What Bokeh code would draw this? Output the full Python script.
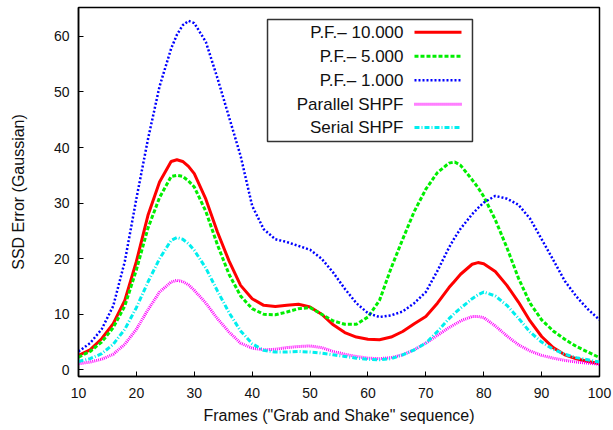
from bokeh.plotting import figure
from bokeh.models import Range1d, FixedTicker, Label, Arrow, BoxAnnotation
from bokeh.embed import file_html
from bokeh.resources import INLINE

# ---- data ----
frames = [10, 12, 14, 16, 18, 20, 22, 24, 26, 27, 28, 29, 30, 32, 34, 36, 38, 40, 42, 44,
          46, 48, 50, 52, 54, 56, 58, 60, 62, 64, 66, 68, 70, 72, 74, 75, 76, 78, 79, 80,
          82, 84, 86, 88, 90, 92, 94, 96, 98, 100]

pf_10000 = [2.6, 3.6, 5.6, 8.3, 12.5, 19.5, 27.8, 33.8, 37.5, 37.8, 37.5, 36.6, 35.3, 30.7,
            24.8, 19.6, 15.2, 12.8, 11.6, 11.4, 11.6, 11.8, 11.3, 10.0, 8.1, 6.7, 5.9, 5.5,
            5.4, 5.9, 6.9, 8.3, 9.6, 12.0, 14.8, 16.0, 17.2, 19.0, 19.3, 19.1, 17.7, 15.2,
            12.2, 8.8, 6.0, 4.0, 2.7, 2.0, 1.5, 1.1]

pf_5000 = [2.3, 3.3, 5.0, 7.6, 11.5, 18.0, 25.5, 31.0, 34.8, 35.0, 34.8, 34.0, 32.9, 28.5,
           22.5, 17.2, 13.3, 11.0, 10.0, 9.9, 10.4, 11.0, 11.2, 10.0, 8.8, 8.2, 8.2, 9.5,
           12.5, 18.3, 23.5, 28.5, 32.5, 35.5, 37.2, 37.4, 36.8, 34.2, 32.8, 31.2, 27.0,
           22.0, 16.5, 12.0, 9.0, 7.0, 5.5, 4.2, 3.2, 2.2]

pf_1000 = [3.3, 4.8, 7.3, 11.5, 19.5, 30.8, 41.5, 51.0, 57.8, 60.3, 62.0, 62.8, 62.4, 59.0,
           52.5, 45.5, 38.5, 29.5, 25.3, 23.5, 23.0, 22.3, 21.6, 20.0, 17.5, 14.6, 12.0,
           10.2, 9.5, 9.8, 10.5, 12.0, 14.0, 17.8, 22.0, 23.8, 25.4, 28.0, 29.1, 30.1, 31.3,
           30.8, 29.7, 27.2, 23.5, 19.8, 16.0, 13.2, 10.9, 9.0]

parallel_shpf = [1.1, 1.4, 1.9, 2.8, 4.6, 7.3, 10.8, 14.0, 15.8, 16.1, 15.9, 15.3, 14.3, 12.0,
                 9.2, 6.8, 4.8, 3.9, 3.6, 3.7, 4.0, 4.2, 4.3, 4.0, 3.3, 2.8, 2.4, 2.1, 2.0,
                 2.2, 2.7, 3.6, 4.8, 6.2, 7.6, 8.2, 8.8, 9.6, 9.6, 9.4, 7.9, 6.1, 4.5, 3.4,
                 2.6, 2.1, 1.7, 1.4, 1.2, 1.0]

serial_shpf = [1.5, 2.0, 2.9, 4.6, 7.3, 11.2, 15.8, 20.0, 23.3, 23.8, 23.5, 22.7, 21.5, 18.3,
               14.2, 10.3, 7.0, 4.7, 3.5, 3.2, 3.2, 3.3, 3.2, 3.0, 2.7, 2.4, 2.1, 1.9, 1.8,
               2.0, 2.7, 3.6, 4.8, 6.9, 9.2, 10.2, 11.1, 12.8, 13.5, 14.0, 13.3, 11.6, 9.3,
               6.8, 5.0, 3.7, 2.8, 2.2, 1.8, 1.4]

series_names = ["P.F.\u2013 10.000", "P.F.\u2013 5.000", "P.F.\u2013 1.000",
                "Parallel SHPF", "Serial SHPF"]
x_ticks = [10, 20, 30, 40, 50, 60, 70, 80, 90, 100]
y_ticks = [0, 10, 20, 30, 40, 50, 60]

# ---- styles ----
styles = [
    dict(color="#ff0000", width=3.0, dash="solid"),
    dict(color="#00ee00", width=3.0, dash="4 2"),
    dict(color="#0000ff", width=2.5, dash="2 2"),
    dict(color="#ff00ff", width=3.0, dash="1 1"),
    dict(color="#00eeee", width=3.0, dash="5 2 1 2"),
]
FONT = "Liberation Sans"

p = figure(width=613, height=430, output_backend="svg", toolbar_location=None,
           x_range=Range1d(10, 100), y_range=Range1d(-1.2, 65.2),
           min_border_left=78, min_border_right=14, min_border_top=7, min_border_bottom=54,
           background_fill_color="white", border_fill_color="white")

all_series = [pf_10000, pf_5000, pf_1000, parallel_shpf, serial_shpf]
for ys, st in zip(all_series, styles):
    p.line(frames, ys, line_color=st["color"], line_width=st["width"], line_dash=st["dash"])

p.grid.visible = False
p.outline_line_color = "black"
p.outline_line_width = 1.5

p.xaxis.ticker = FixedTicker(ticks=x_ticks)
p.yaxis.ticker = FixedTicker(ticks=y_ticks)
for ax in (p.xaxis[0], p.yaxis[0]):
    ax.major_tick_in = 5
    ax.major_tick_out = 0
    ax.minor_tick_in = 0
    ax.minor_tick_out = 0
    ax.axis_line_color = "black"
    ax.axis_line_width = 1.5
    ax.major_tick_line_color = "black"
    ax.major_tick_line_width = 1
    ax.major_label_text_font = FONT
    ax.major_label_text_font_size = "14px"
    ax.major_label_text_color = "#111111"
    ax.axis_label_text_font = FONT
    ax.axis_label_text_font_size = "16px"
    ax.axis_label_text_font_style = "normal"
    ax.axis_label_text_color = "#111111"

p.xaxis.axis_label = 'Frames ("Grab and Shake" sequence)'
p.yaxis.axis_label = "SSD Error (Gaussian)"
p.xaxis.major_label_standoff = 11
p.xaxis.axis_label_standoff = 6
p.yaxis.major_label_standoff = 9
p.yaxis.axis_label_standoff = 24

# ---- legend (label left, sample right), placed in frame-fraction coordinates ----
p.extra_x_ranges = {"leg": Range1d(0, 1)}
p.extra_y_ranges = {"leg": Range1d(0, 1)}
box = BoxAnnotation(left=0.3628, right=0.7562, bottom=0.6369, top=0.9675,
                    x_range_name="leg", y_range_name="leg",
                    fill_alpha=0, line_color="#333333", line_width=1.5, line_alpha=1)
p.add_layout(box)
rows = [0.9331, 0.8681, 0.8030, 0.7380, 0.6748]
for name, st, ry in zip(series_names, styles, rows):
    p.add_layout(Label(x=0.6238, y=ry, x_range_name="leg", y_range_name="leg", text=name,
                       text_align="right", text_baseline="middle", text_font=FONT,
                       text_font_size="17px", text_color="#111111"))
    p.add_layout(Arrow(start=None, end=None, x_start=0.6449, x_end=0.7351, y_start=ry, y_end=ry,
                       x_range_name="leg", y_range_name="leg",
                       line_color=st["color"], line_width=st["width"], line_dash=st["dash"]))

open("out.html", "w").write(file_html(p, INLINE))
